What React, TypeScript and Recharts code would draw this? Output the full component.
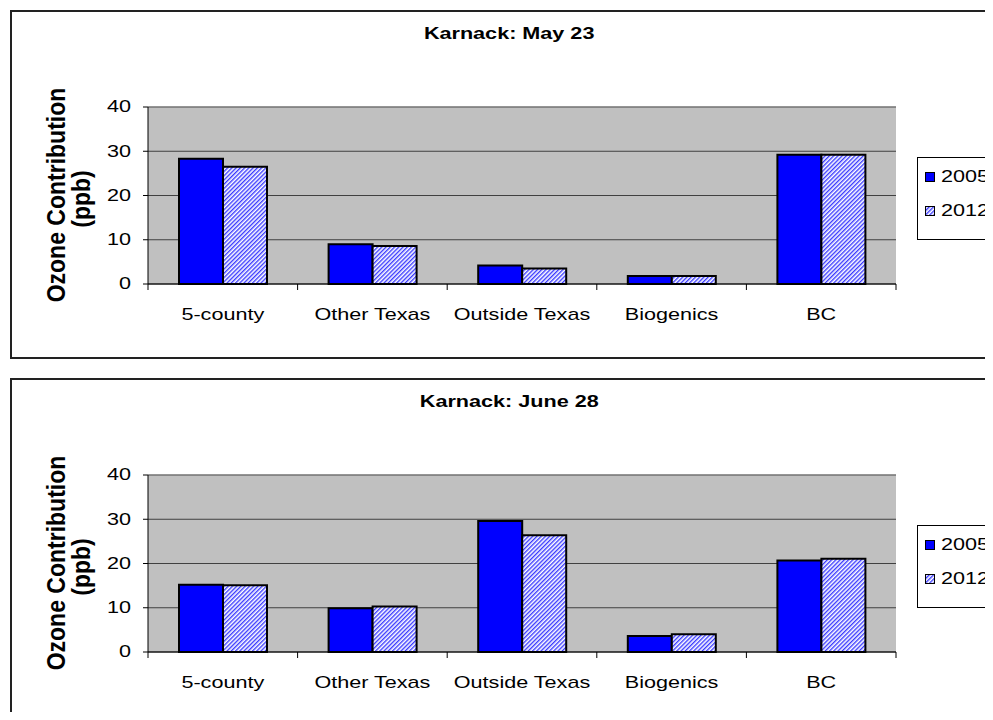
import React from 'react';
import { BarChart, Bar, XAxis, YAxis, CartesianGrid, ReferenceLine } from 'recharts';

// Karnack ozone source contributions (ppb)
const categories = ['5-county', 'Other Texas', 'Outside Texas', 'Biogenics', 'BC'];
const may2005 = [28.3, 9.0, 4.2, 1.8, 29.2];
const may2012 = [26.5, 8.6, 3.5, 1.8, 29.2];
const june2005 = [15.2, 9.9, 29.6, 3.6, 20.7];
const june2012 = [15.1, 10.3, 26.4, 4.0, 21.1];
const yTicks = [0, 10, 20, 30, 40];
const seriesNames = ['2005', '2012'];

const FONT = '"Liberation Sans", Arial, sans-serif';
const STRETCH = 1.35;
const BLUE = '#0000ff';

const CHART_W = 993;
const MARGIN = { top: 107, right: 97, bottom: 54, left: 108 };
const Y_AXIS_W = 40;
const PLOT_W = CHART_W - MARGIN.left - MARGIN.right - Y_AXIS_W;

// category label plus Excel-style tick marks at the category boundaries
function XTick({ x, y, payload, index, visibleTicksCount }: any) {
  const half = PLOT_W / categories.length / 2;
  const last = index === visibleTicksCount - 1;
  return (
    <g>
      <line x1={x - half} x2={x - half} y1={y} y2={y + 6} stroke="#000" />
      {last && <line x1={x + half} x2={x + half} y1={y} y2={y + 6} stroke="#000" />}
      <g transform={`translate(${x},${y + 31})`}>
        <text transform={`scale(${STRETCH},1)`} textAnchor="middle" dominantBaseline="central" fontSize={16} fontFamily={FONT} fill="#000">
          {payload.value}
        </text>
      </g>
    </g>
  );
}

function YTick({ x, y, payload }: any) {
  return (
    <g transform={`translate(${x},${y})`}>
      <text transform={`scale(${STRETCH},1)`} textAnchor="end" dominantBaseline="central" fontSize={16} fontFamily={FONT} fill="#000">
        {payload.value}
      </text>
    </g>
  );
}

function LegendBox({ id }: { id: string }) {
  const row = (i: number) => (
    <div key={i} style={{ position: 'absolute', left: 0, top: i === 0 ? 19 : 53, height: 0 }}>
      <svg width={10} height={10} style={{ position: 'absolute', left: 7, top: -5 }}>
        <rect x={0.5} y={0.5} width={9} height={9} fill={i === 0 ? BLUE : `url(#${id})`} stroke="#000" strokeWidth={1} />
      </svg>
      <span
        style={{
          position: 'absolute', left: 23, top: -9, fontSize: 16, lineHeight: '18px', whiteSpace: 'nowrap',
          transform: `scaleX(${STRETCH})`, transformOrigin: 'left center', fontFamily: FONT,
        }}
      >
        {seriesNames[i]}
      </span>
    </div>
  );
  return (
    <div
      style={{
        position: 'absolute', left: 917, top: 157, width: 100, height: 83, border: '1px solid #000',
        boxSizing: 'border-box', background: '#fff',
      }}
    >
      {row(0)}
      {row(1)}
    </div>
  );
}

const yLabelStyle: React.CSSProperties = {
  position: 'absolute',
  transform: 'translate(-50%,-50%) rotate(-90deg) scale(1,1.15)',
  whiteSpace: 'nowrap',
  fontWeight: 'bold',
  fontSize: 23,
  lineHeight: '24px',
  fontFamily: FONT,
};

function Panel({ title, top, boxHeight, v2005, v2012, id }: any) {
  const data = categories.map((name, i) => ({ name, a: v2005[i], b: v2012[i] }));
  return (
    <div style={{ position: 'absolute', left: 0, top, width: CHART_W, height: 368 }}>
      <div style={{ position: 'absolute', left: 10, top: 10, width: 998, height: boxHeight, border: '2px solid #222', boxSizing: 'border-box' }} />
      <div
        style={{
          position: 'absolute', left: 10, width: 998, top: 25, textAlign: 'center', fontWeight: 'bold', fontSize: 16,
          lineHeight: '18px', fontFamily: FONT,
        }}
      >
        <span style={{ display: 'inline-block', transform: `scaleX(${STRETCH})` }}>{title}</span>
      </div>
      <div style={{ ...yLabelStyle, left: 56, top: 195 }}>Ozone Contribution</div>
      <div style={{ ...yLabelStyle, left: 81, top: 199 }}>(ppb)</div>
      <BarChart
        width={CHART_W}
        height={368}
        data={data}
        margin={MARGIN}
        barCategoryGap={31}
        barGap={0}
        style={{ position: 'absolute', left: 0, top: 0 }}
      >
        <defs>
          <pattern id={id} patternUnits="userSpaceOnUse" width={3} height={3} patternTransform="rotate(45)">
            <rect width={3} height={3} fill="#fff" />
            <rect width={1.4} height={3} fill="#3a3aff" />
          </pattern>
        </defs>
        <CartesianGrid vertical={false} fill="#c0c0c0" stroke="#404040" />
        <XAxis
          dataKey="name"
          interval={0}
          tickLine={false}
          axisLine={{ stroke: '#000' }}
          tickSize={0}
          tickMargin={0}
          height={30}
          tick={<XTick />}
        />
        <YAxis
          domain={[0, 40]}
          ticks={yTicks}
          interval={0}
          width={Y_AXIS_W}
          tickSize={5}
          tickMargin={12}
          tick={<YTick />}
          axisLine={{ stroke: '#000' }}
          tickLine={{ stroke: '#000' }}
        />
        <YAxis yAxisId="r" orientation="right" width={0} domain={[0, 40]} tick={false} tickLine={false} axisLine={{ stroke: '#808080' }} />
        <ReferenceLine y={40} stroke="#8a8a8a" />
        <Bar dataKey="a" name={seriesNames[0]} fill={BLUE} stroke="#000" strokeWidth={2} isAnimationActive={false} />
        <Bar dataKey="b" name={seriesNames[1]} fill={`url(#${id})`} stroke="#000" strokeWidth={2} isAnimationActive={false} />
      </BarChart>
      <LegendBox id={id} />
    </div>
  );
}

export default function App() {
  return (
    <div style={{ position: 'relative', margin: -8, width: 993, height: 720, overflow: 'hidden', background: '#fff', fontFamily: FONT }}>
      <Panel title="Karnack: May 23" top={0} boxHeight={349} v2005={may2005} v2012={may2012} id="hatchMay" />
      <Panel title="Karnack: June 28" top={368} boxHeight={341} v2005={june2005} v2012={june2012} id="hatchJune" />
    </div>
  );
}
